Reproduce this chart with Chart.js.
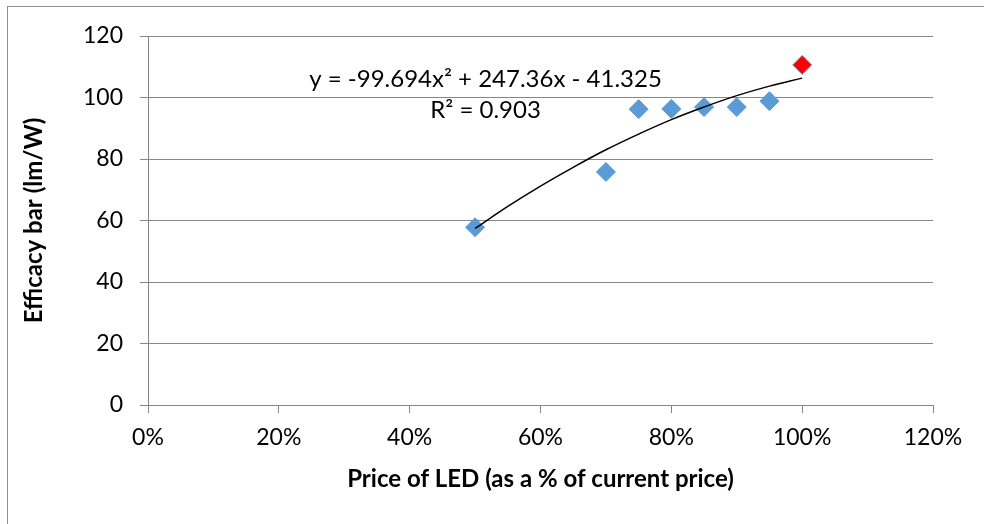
<!DOCTYPE html>
<html>
<head>
<meta charset="utf-8">
<script src="https://cdn.jsdelivr.net/npm/chart.js@4"></script>
<style>
  html, body { margin: 0; padding: 0; background: #fff; }
  #wrap { width: 984px; height: 524px; position: relative; }
</style>
</head>
<body>
<div id="wrap"><canvas id="chart" width="984" height="524"></canvas></div>
<script>
// Price of LED (fraction of current price) vs efficacy bar (lm/W)
const priceShare = [0.5, 0.7, 0.75, 0.8, 0.85, 0.9, 0.95];
const efficacy = [57.8, 75.8, 96.2, 96.3, 96.9, 96.9, 98.8];
const currentPrice = [1.0];
const currentEfficacy = [110.6];

// polynomial trend line
const trendX = [0.5, 0.55, 0.6, 0.65, 0.7, 0.75, 0.8, 0.85, 0.9, 0.95, 1.0];
const trendY = [57.4, 64.6, 71.2, 77.3, 83.0, 88.1, 92.8, 96.9, 100.6, 103.7, 106.3];

const trendLabel = ['y = -99.694x\u00b2 + 247.36x - 41.325', 'R\u00b2 = 0.903'];
const xTitle = 'Price of LED (as a % of current price)';
const yTitle = 'Efficacy bar (lm/W)';

const FONT = 'Lato, "Open Sans", sans-serif';
const GRID = '#878787';

const toPoints = (xs, ys) => xs.map((x, i) => ({ x: x, y: ys[i] }));

// outer frame, cut off at right and bottom like the source
const framePlugin = {
    id: 'frame',
    beforeDraw(chart) {
        const ctx = chart.ctx;
        ctx.save();
        ctx.strokeStyle = '#8e8e8e';
        ctx.lineWidth = 1;
        ctx.strokeRect(7.5, 6.5, chart.width + 20, chart.height + 20);
        ctx.restore();
    }
};

// trendline equation text
const equationPlugin = {
    id: 'equation',
    afterDraw(chart) {
        const ctx = chart.ctx;
        const x = chart.scales.x.getPixelForValue(0.516);
        ctx.save();
        ctx.fillStyle = '#000';
        ctx.font = '24px ' + FONT;
        ctx.textAlign = 'center';
        ctx.textBaseline = 'middle';
        ctx.fillText(trendLabel[0], x, chart.scales.y.getPixelForValue(105.8));
        ctx.fillText(trendLabel[1], x, chart.scales.y.getPixelForValue(95.8));
        ctx.restore();
    }
};

new Chart(document.getElementById('chart'), {
    type: 'scatter',
    data: {
        datasets: [
            {
                label: 'Trend',
                type: 'line',
                data: toPoints(trendX, trendY),
                borderColor: '#000',
                borderWidth: 1.5,
                pointRadius: 0,
                tension: 0.4,
                fill: false,
                order: 0
            },
            {
                label: 'Current',
                data: toPoints(currentPrice, currentEfficacy),
                pointStyle: 'rectRot',
                pointRadius: 9.5,
                backgroundColor: '#ff0000',
                borderColor: '#5b9bd5',
                borderWidth: 1,
                order: 1
            },
            {
                label: 'Efficacy',
                data: toPoints(priceShare, efficacy),
                pointStyle: 'rectRot',
                pointRadius: 9.5,
                backgroundColor: '#5b9bd5',
                borderColor: '#5b9bd5',
                borderWidth: 1,
                order: 2
            }
        ]
    },
    options: {
        responsive: false,
        animation: false,
        layout: { padding: { left: 16, right: 51, top: 36, bottom: 26 } },
        plugins: {
            legend: { display: false },
            tooltip: { enabled: false }
        },
        scales: {
            x: {
                type: 'linear',
                min: 0,
                max: 1.2,
                afterFit: s => { s.height = 93; },
                grid: {
                    drawOnChartArea: false,
                    drawTicks: true,
                    tickLength: 8,
                    color: GRID
                },
                border: { color: GRID, width: 1 },
                ticks: {
                    stepSize: 0.2,
                    color: '#000',
                    padding: 11,
                    font: { family: FONT, size: 23 },
                    callback: v => Math.round(v * 100) + '%'
                },
                title: {
                    display: true,
                    text: xTitle,
                    color: '#000',
                    padding: { top: 10 },
                    font: { family: FONT, size: 24, weight: 'bold' }
                }
            },
            y: {
                min: 0,
                max: 120,
                afterFit: s => { s.width = 132; },
                grid: {
                    color: GRID,
                    tickLength: 8,
                    drawTicks: true
                },
                border: { color: GRID, width: 1 },
                ticks: {
                    stepSize: 20,
                    color: '#000',
                    padding: 17,
                    font: { family: FONT, size: 23 }
                },
                title: {
                    display: true,
                    text: yTitle,
                    color: '#000',
                    padding: { bottom: 0 },
                    font: { family: FONT, size: 24, weight: 'bold' }
                }
            }
        }
    },
    plugins: [framePlugin, equationPlugin]
});
</script>
</body>
</html>
